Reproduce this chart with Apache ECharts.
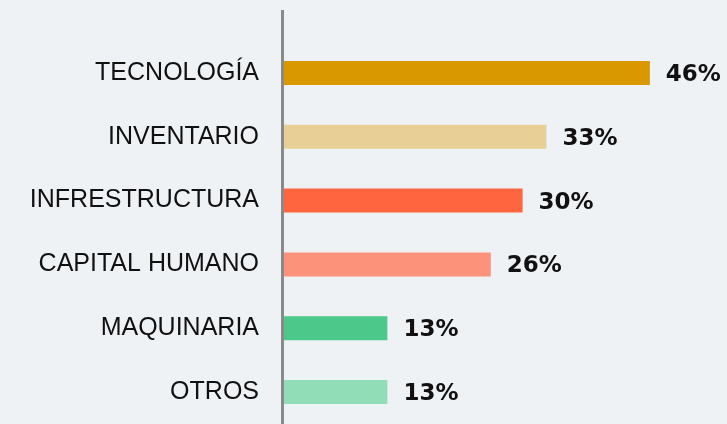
<!DOCTYPE html>
<html>
<head>
<meta charset="utf-8">
<script src="https://cdn.jsdelivr.net/npm/echarts@6/dist/echarts.min.js"></script>
<style>
html,body{margin:0;padding:0;background:#eff2f5;}
#chart{width:727px;height:424px;}
</style>
</head>
<body>
<div id="chart"></div>
<script>
const categories = ['TECNOLOGÍA','INVENTARIO','INFRESTRUCTURA','CAPITAL HUMANO','MAQUINARIA','OTROS'];
const values = [46, 33, 30, 26, 13, 13];
const barColors = ['#d99800','#e8cf96','#ff6640','#fc927a','#4cc98a','#90ddb8'];

const chart = echarts.init(document.getElementById('chart'), null, {renderer:'canvas'});
chart.setOption({
  backgroundColor: '#eff2f5',
  animation: false,
  grid: {left: 284, top: 41, width: 443, height: 387, containLabel: false},
  xAxis: {type:'value', min:0, max:55.7, show:false},
  yAxis: {
    type:'category', data: categories, inverse: true,
    axisLine:{show:false}, axisTick:{show:false}, splitLine:{show:false},
    axisLabel:{margin:25, color:'#111', fontFamily:'Liberation Sans', fontSize:25}
  },
  graphic: [{
    type:'line', shape:{x1:282.5, y1:10, x2:282.5, y2:424},
    style:{stroke:'#8a8a8a', lineWidth:3}, z:10
  }],
  series: [{
    type:'bar', barWidth: 24,
    data: values.map((v,i)=>({value:v, itemStyle:{color:barColors[i]}})),
    label:{show:true, position:'right', distance:16, offset:[0,2], formatter:'{c}%',
      color:'#111', fontFamily:'DejaVu Sans', fontWeight:'bold', fontSize:23}
  }]
});
</script>
</body>
</html>
